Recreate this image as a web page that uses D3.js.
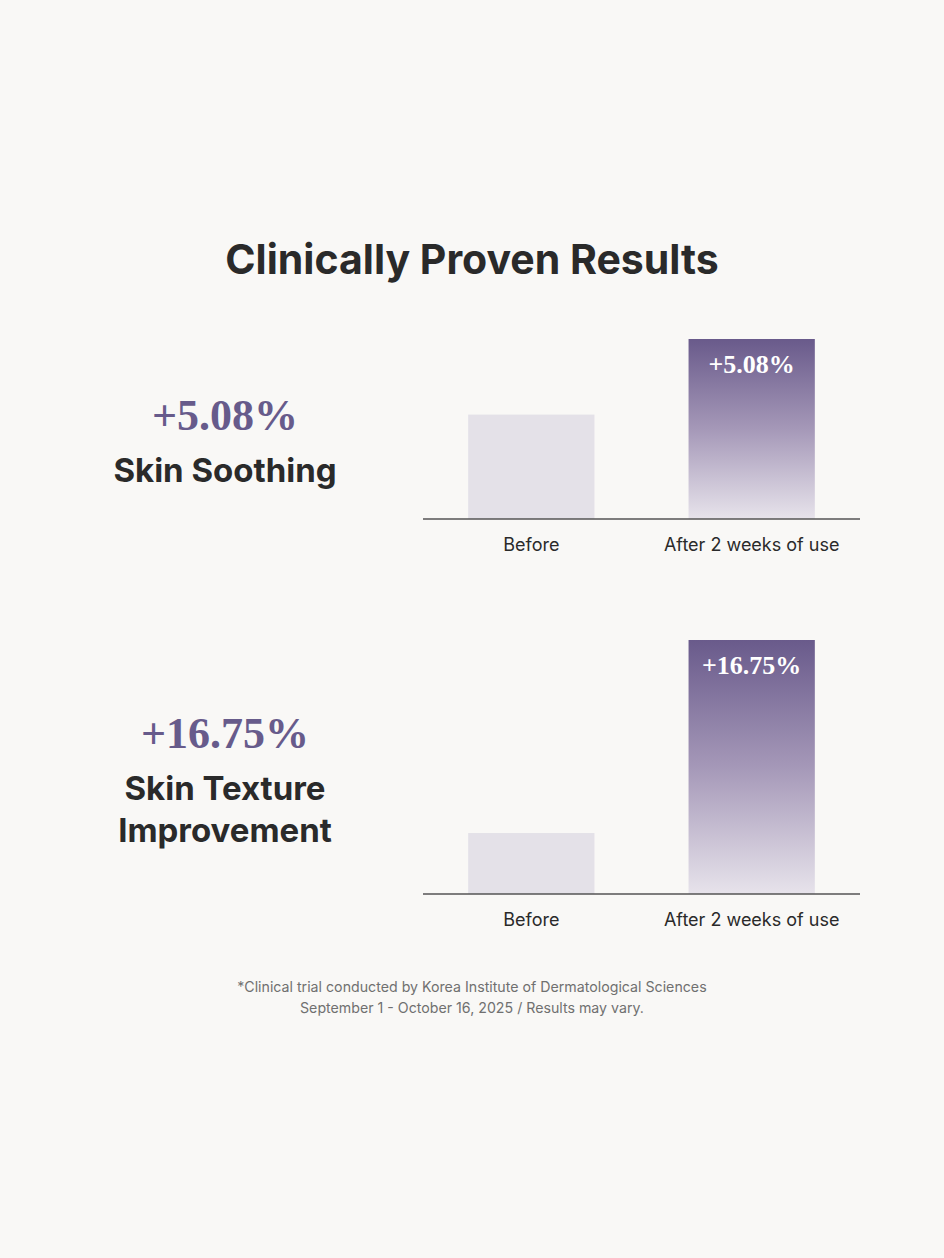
<!DOCTYPE html>
<html>
<head>
<meta charset="utf-8">
<script src="https://cdn.jsdelivr.net/npm/d3@7"></script>
<style>
  html, body { margin: 0; padding: 0; background: #f9f8f6; }
  svg { display: block; }
</style>
</head>
<body>
<svg id="chart"></svg>
<script>
// data
const categories = ['Before', 'After 2 weeks of use'];
const metrics = ['Skin Soothing', 'Skin Texture Improvement'];
const gains = ['+5.08%', '+16.75%'];
// relative bar heights (after = 100)
const soothingValues = [58, 100];
const textureValues = [24, 100];
const footnotes = [
    '*Clinical trial conducted by Korea Institute of Dermatological Sciences',
    'September 1 - October 16, 2025 / Results may vary.'
];

const width = 944, height = 1258;
const sans = 'Inter, "Noto Sans", sans-serif';
const serif = '"Liberation Serif", "Times New Roman", serif';

const svg = d3.select('#chart')
    .attr('width', width)
    .attr('height', height);

svg.append('rect')
    .attr('width', width)
    .attr('height', height)
    .attr('fill', '#f9f8f6');

const defs = svg.append('defs');
const grad = defs.append('linearGradient')
    .attr('id', 'afterGrad')
    .attr('x1', 0).attr('y1', 0).attr('x2', 0).attr('y2', 1);
grad.append('stop').attr('offset', '0%').attr('stop-color', '#695a8b');
grad.append('stop').attr('offset', '50%').attr('stop-color', '#a598b8');
grad.append('stop').attr('offset', '100%').attr('stop-color', '#e7e3eb');

svg.append('text')
    .attr('x', 472)
    .attr('y', 274)
    .attr('text-anchor', 'middle')
    .attr('font-family', sans)
    .attr('font-weight', 700)
    .attr('font-size', 41)
    .attr('fill', '#2a2a2a')
    .text('Clinically Proven Results');

const xscale = d3.scaleBand()
    .domain(categories)
    .range([423, 860])
    .paddingInner(0.427)
    .paddingOuter(0.205);

const panels = [
    { values: soothingValues, gain: gains[0], lines: ['Skin Soothing'], base: 519, top: 339, gainY: 430, labelY: 482 },
    { values: textureValues, gain: gains[1], lines: ['Skin Texture', 'Improvement'], base: 894, top: 640, gainY: 748, labelY: 800 }
];

panels.forEach((p, i) => {
    const g = svg.append('g');

    const yscale = d3.scaleLinear()
        .domain([0, 100])
        .range([p.base, p.top]);

    // left headline
    g.append('text')
        .attr('x', 225)
        .attr('y', p.gainY)
        .attr('text-anchor', 'middle')
        .attr('font-family', serif)
        .attr('font-weight', 700)
        .attr('font-size', 44)
        .attr('fill', '#675b8b')
        .text(p.gain);

    g.selectAll('.metric')
        .data(p.lines)
        .join('text')
        .attr('class', 'metric')
        .attr('x', 225)
        .attr('y', (d, j) => p.labelY + j * 42)
        .attr('text-anchor', 'middle')
        .attr('font-family', sans)
        .attr('font-weight', 700)
        .attr('font-size', 33)
        .attr('fill', '#2a2a2a')
        .text(d => d);

    // bars
    const rows = categories.map((c, j) => ({ cat: c, value: p.values[j] }));
    g.selectAll('.bar')
        .data(rows)
        .join('rect')
        .attr('class', 'bar')
        .attr('x', d => xscale(d.cat))
        .attr('width', xscale.bandwidth())
        .attr('y', d => yscale(d.value))
        .attr('height', d => yscale(0) - yscale(d.value))
        .attr('fill', (d, j) => j === 0 ? '#e4e1e8' : 'url(#afterGrad)');

    g.append('text')
        .attr('x', xscale(categories[1]) + xscale.bandwidth() / 2)
        .attr('y', yscale(100) + 34)
        .attr('text-anchor', 'middle')
        .attr('font-family', serif)
        .attr('font-weight', 700)
        .attr('font-size', 26)
        .attr('fill', '#ffffff')
        .text(p.gain);

    // axis
    const axis = d3.axisBottom(xscale).tickSize(0).tickPadding(19);
    const ag = g.append('g')
        .attr('transform', `translate(0, ${p.base})`)
        .call(axis);
    ag.select('.domain')
        .attr('d', `M${xscale.range()[0]},0H${xscale.range()[1]}`)
        .attr('stroke', '#555555')
        .attr('stroke-width', 1.3);
    ag.selectAll('.tick text')
        .attr('font-family', sans)
        .attr('font-size', 18)
        .attr('fill', '#2a2a2a');
});

svg.selectAll('.note')
    .data(footnotes)
    .join('text')
    .attr('class', 'note')
    .attr('x', 472)
    .attr('y', (d, i) => 992 + i * 21)
    .attr('text-anchor', 'middle')
    .attr('font-family', sans)
    .attr('font-size', 14.2)
    .attr('fill', '#707070')
    .text(d => d);
</script>
</body>
</html>
